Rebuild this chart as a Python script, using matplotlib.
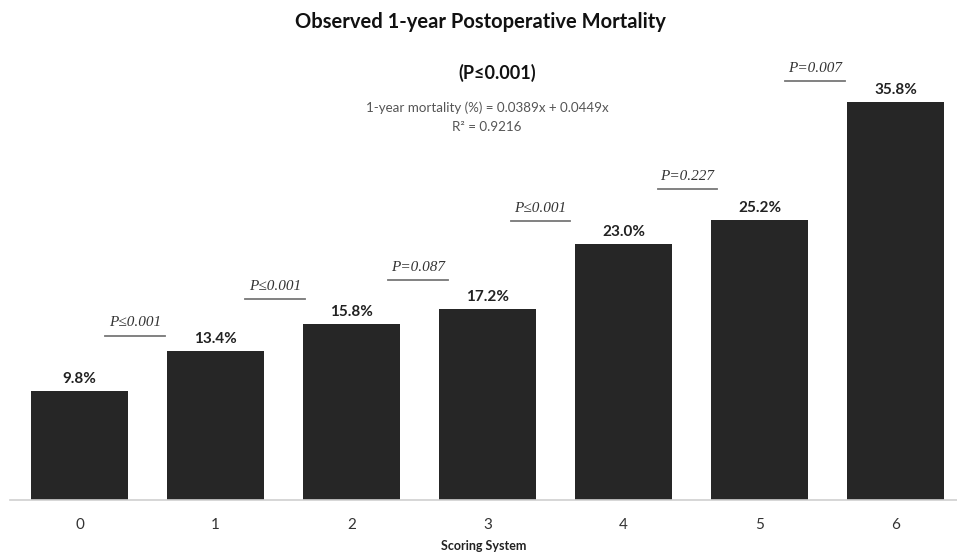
import matplotlib
matplotlib.use('Agg')
import matplotlib.pyplot as plt

# observed 1-year mortality per score
scores = ['0', '1', '2', '3', '4', '5', '6']
mortality = [9.8, 13.4, 15.8, 17.2, 23.0, 25.2, 35.8]

# pairwise comparisons between neighbouring scores
p_labels = ['P≤0.001', 'P≤0.001', 'P=0.087', 'P≤0.001', 'P=0.227', 'P=0.007']
p_xpos = [0.41, 1.44, 2.49, 3.39, 4.47, 5.41]
p_ypos = [14.8, 18.1, 19.8, 25.1, 28.0, 37.7]

plt.rcParams['font.family'] = ['Lato', 'DejaVu Sans']

fig = plt.figure(figsize=(9.57, 5.55), dpi=100)
ax = fig.add_axes([0.0104, 0.099, 0.9896, 0.801])

x = list(range(len(scores)))
ax.bar(x, mortality, width=0.713, color='#262626')
for xi, v in zip(x, mortality):
    ax.text(xi, v + 0.45, f'{v:.1f}%', ha='center', va='bottom',
            fontsize=11, fontweight='bold', color='#222222')

for xp, yp, lab in zip(p_xpos, p_ypos, p_labels):
    ax.plot([xp - 0.22, xp + 0.22], [yp, yp], color='#777777', lw=1.3)
    ax.text(xp, yp + 0.55, lab, ha='center', va='bottom', fontsize=11,
            style='italic', family=['Liberation Serif', 'DejaVu Serif'],
            color='#333333')

ax.set_xlim(-0.511, 6.452)
ax.set_ylim(0, 40)
ax.set_xticks(x)
ax.set_xticklabels(scores, fontsize=11, color='#333333')
ax.tick_params(axis='x', length=0, pad=13)
ax.set_yticks([])
for side in ['left', 'right', 'top']:
    ax.spines[side].set_visible(False)
ax.spines['bottom'].set_color('#d0d0d0')
ax.spines['bottom'].set_linewidth(1.2)
ax.set_xlabel('Scoring System', fontsize=9, fontweight='bold', labelpad=6,
              color='#222222')

fig.text(0.502, 0.96, 'Observed 1-year Postoperative Mortality', ha='center',
         va='center', fontsize=14.5, fontweight='bold', color='#111111')
fig.text(0.52, 0.868, '(P≤0.001)', ha='center', va='center', fontsize=13,
         fontweight='bold', color='#111111')
fig.text(0.509, 0.805, '1-year mortality (%) = 0.0389x + 0.0449x', ha='center',
         va='center', fontsize=9.6, color='#555555')
fig.text(0.509, 0.772, 'R² = 0.9216', ha='center', va='center', fontsize=9.6,
         color='#555555')

fig.savefig('out.png', dpi=100)
